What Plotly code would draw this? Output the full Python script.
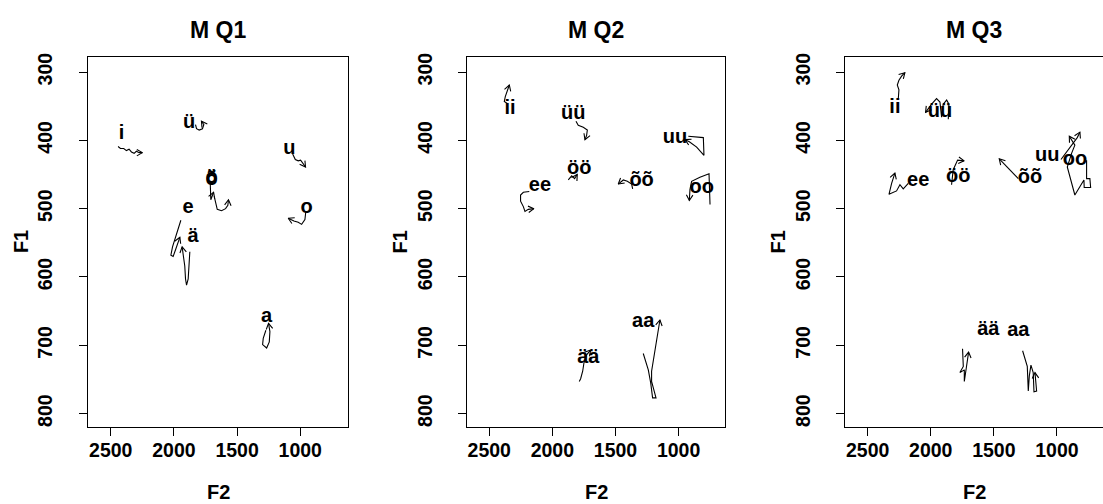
import math
import plotly.graph_objects as go

# ---------------- data (F2 = x, F1 = y, Hz) ----------------
PANEL_TITLES = ["M Q1", "M Q2", "M Q3"]
X_TICKS = [2500, 2000, 1500, 1000]
Y_TICKS = [300, 400, 500, 600, 700, 800]

# Q1
Q1_labels = ["i", "ü", "u", "ö", "õ", "e", "ä", "o", "a"]
Q1_label_F2 = [2415, 1879, 1087, 1702, 1702, 1887, 1848, 950, 1266]
Q1_label_F1 = [391, 375, 412, 455, 458, 499, 542, 499, 658]
Q1_track_F2 = [
    [2442, 2423, 2397, 2376, 2355, 2336, 2315, 2297, 2275, 2249],
    [1829, 1821, 1800, 1774, 1763, 1782],
    [1060, 1039, 1016, 997, 958],
    [1713, 1710, 1708, 1686],
    [1681, 1668, 1657, 1623, 1591, 1573, 1568],
    [1945, 1966, 1990, 2011, 2024, 2006, 1985, 1969, 1953],
    [1874, 1879, 1887, 1900, 1908, 1914, 1927, 1935],
    [957, 963, 989, 1016, 1050, 1095],
    [1272, 1293, 1298, 1266, 1245, 1240, 1251],
]
Q1_track_F1 = [
    [409, 412, 412, 415, 413, 417, 419, 416, 418, 418],
    [377, 383, 385, 383, 377, 372],
    [420, 428, 430, 429, 439],
    [459, 473, 487, 476],
    [482, 494, 501, 503, 500, 495, 487],
    [517, 529, 542, 556, 568, 570, 559, 549, 542],
    [563, 584, 603, 612, 603, 584, 564, 556],
    [506, 516, 523, 520, 518, 514],
    [678, 690, 699, 704, 695, 680, 668],
]

# Q2
Q2_labels = ["ii", "üü", "uu", "öö", "ee", "õõ", "oo", "ää", "aa"]
Q2_label_F2 = [2336, 1834, 1029, 1787, 2098, 1293, 817, 1715, 1280]
Q2_label_F1 = [354, 361, 397, 442, 467, 460, 470, 719, 666]
Q2_track_F2 = [
    [2357, 2381, 2373, 2357, 2341],
    [1813, 1795, 1755, 1723, 1729, 1742],
    [923, 804, 799, 857, 915, 949],
    [1874, 1847, 1824, 1803],
    [2183, 2230, 2252, 2252, 2230, 2217, 2191, 2146],
    [1364, 1372, 1406, 1438, 1478],
    [751, 757, 759, 831, 897, 910, 915],
    [1787, 1776, 1760, 1750, 1729, 1697],
    [1280, 1240, 1221, 1206, 1179, 1214, 1214, 1200, 1179, 1148],
]
Q2_track_F1 = [
    [346, 343, 336, 328, 319],
    [372, 378, 381, 385, 393, 399],
    [394, 396, 422, 410, 402, 399],
    [458, 452, 456, 450],
    [475, 476, 480, 489, 497, 504, 501, 500],
    [471, 464, 460, 458, 464],
    [494, 472, 449, 454, 460, 472, 488],
    [753, 749, 738, 726, 714, 707],
    [712, 736, 755, 777, 777, 753, 738, 721, 695, 663],
]

# Q3
Q3_labels = ["ii", "üü", "ee", "öö", "õõ", "uu", "oo", "ää", "aa"]
Q3_label_F2 = [2284, 1927, 2099, 1782, 1214, 1077, 857, 1544, 1306]
Q3_label_F1 = [352, 359, 459, 453, 455, 423, 429, 678, 679]
Q3_track_F2 = [
    [2257, 2252, 2265, 2252, 2231, 2205],
    [1861, 1856, 1874, 1901, 1914, 1927, 1954, 1993, 2041],
    [2178, 2218, 2244, 2271, 2331, 2310, 2284],
    [1835, 1822, 1787, 1735],
    [1306, 1333, 1372, 1412, 1457],
    [968, 924, 876, 839, 818],
    [765, 765, 739, 733, 784, 786, 858, 918, 884, 858, 902],
    [1748, 1742, 1769, 1734, 1734, 1716, 1700],
    [1272, 1235, 1227, 1219, 1206, 1188, 1182, 1161, 1174],
]
Q3_track_F1 = [
    [339, 326, 319, 312, 306, 301],
    [369, 347, 341, 347, 366, 344, 339, 347, 359],
    [463, 471, 465, 474, 479, 463, 448],
    [465, 443, 429, 430],
    [456, 451, 443, 436, 427],
    [428, 417, 406, 396, 388],
    [429, 456, 456, 469, 469, 458, 480, 439, 419, 407, 394],
    [705, 731, 740, 736, 753, 731, 710],
    [708, 731, 767, 745, 729, 740, 768, 767, 740],
]

PANELS = [
    (Q1_labels, Q1_label_F2, Q1_label_F1, Q1_track_F2, Q1_track_F1),
    (Q2_labels, Q2_label_F2, Q2_label_F1, Q2_track_F2, Q2_track_F1),
    (Q3_labels, Q3_label_F2, Q3_label_F1, Q3_track_F2, Q3_track_F1),
]

# ---------------- layout ----------------
W, H = 1103, 504
FONT = "Liberation Sans, Arial, Helvetica, sans-serif"
X_DOMAINS = [(88 / W, 348 / W), (467.3 / W, 725.3 / W), (845.3 / W, 1.0)]
Y_DOMAIN = ((H - 426) / H, (H - 53) / H)
X_RANGES = [(2680, 622), (2674, 630), (2677, 635)]
Y_RANGE = (819.3, 278.7)
HEAD_LEN = 6.5      # arrow head length in px (R arrows style)
HEAD_ANG = math.radians(30)


def arrow_head(xs, ys, sx, sy):
    """Open R-style arrow head at the last point, using the axis scales."""
    px1, py1 = -xs[-1] * sx, ys[-1] * sy
    px0, py0 = -xs[-2] * sx, ys[-2] * sy
    ang = math.atan2(py1 - py0, px1 - px0)
    hx, hy = [], []
    for s in (1, -1):
        a = ang + math.pi + s * HEAD_ANG
        hx.append(-(px1 + HEAD_LEN * math.cos(a)) / sx)
        hy.append((py1 + HEAD_LEN * math.sin(a)) / sy)
    return [hx[0], xs[-1], hx[1]], [hy[0], ys[-1], hy[1]]


fig = go.Figure()
annotations = []
y_px = (Y_DOMAIN[1] - Y_DOMAIN[0]) * H

for i, (labels, lf2, lf1, tf2, tf1) in enumerate(PANELS):
    n = "" if i == 0 else str(i + 1)
    xa, ya = "x" + n, "y" + n
    d0, d1 = X_DOMAINS[i]
    sx = (d1 - d0) * W / (X_RANGES[i][0] - X_RANGES[i][1])
    sy = y_px / (Y_RANGE[0] - Y_RANGE[1])
    for xs, ys in zip(tf2, tf1):
        fig.add_trace(go.Scatter(
            x=xs, y=ys, mode="lines", xaxis=xa, yaxis=ya,
            line=dict(color="black", width=1.1), showlegend=False,
            hoverinfo="skip"))
        hx, hy = arrow_head(xs, ys, sx, sy)
        fig.add_trace(go.Scatter(
            x=hx, y=hy, mode="lines", xaxis=xa, yaxis=ya,
            line=dict(color="black", width=1.1), showlegend=False,
            hoverinfo="skip"))
    fig.add_trace(go.Scatter(
        x=lf2, y=lf1, mode="text", text=labels, textposition="middle center",
        xaxis=xa, yaxis=ya, showlegend=False, hoverinfo="skip",
        textfont=dict(family=FONT, size=20, color="black", weight="bold")))

    axis_common = dict(
        showgrid=False, zeroline=False, showline=True, linecolor="black",
        linewidth=1, ticks="outside", ticklen=8, tickwidth=1, tickcolor="black",
        tickfont=dict(family=FONT, size=19.5, color="black", weight="bold"))
    fig.layout["xaxis" + n] = dict(
        axis_common, domain=[d0, d1], range=list(X_RANGES[i]),
        tickvals=X_TICKS, ticktext=[str(v) for v in X_TICKS],
        mirror=True, anchor=ya, ticklabelstandoff=-2)
    fig.layout["yaxis" + n] = dict(
        axis_common, domain=list(Y_DOMAIN), range=list(Y_RANGE),
        tickvals=Y_TICKS, ticktext=[str(v) for v in Y_TICKS],
        tickangle=-90, mirror=(i < 2), anchor=xa, ticklabelstandoff=19)

    cx = (d0 + d1) / 2
    annotations.append(dict(
        x=cx, y=(H - 25) / H, xref="paper", yref="paper", text=PANEL_TITLES[i],
        showarrow=False, xanchor="center", yanchor="middle",
        font=dict(family=FONT, size=23, color="black", weight="bold")))
    annotations.append(dict(
        x=cx, y=(H - 492) / H, xref="paper", yref="paper", text="F2",
        showarrow=False, xanchor="center", yanchor="middle",
        font=dict(family=FONT, size=20, color="black", weight="bold")))
    annotations.append(dict(
        x=(d0 * W - 67) / W, y=sum(Y_DOMAIN) / 2, xref="paper", yref="paper",
        text="F1", textangle=-90, showarrow=False, xanchor="center",
        yanchor="middle",
        font=dict(family=FONT, size=20, color="black", weight="bold")))

fig.update_layout(
    width=W, height=H, margin=dict(l=0, r=0, t=0, b=0),
    paper_bgcolor="white", plot_bgcolor="white",
    annotations=annotations, showlegend=False)

fig.write_html("out.html")
